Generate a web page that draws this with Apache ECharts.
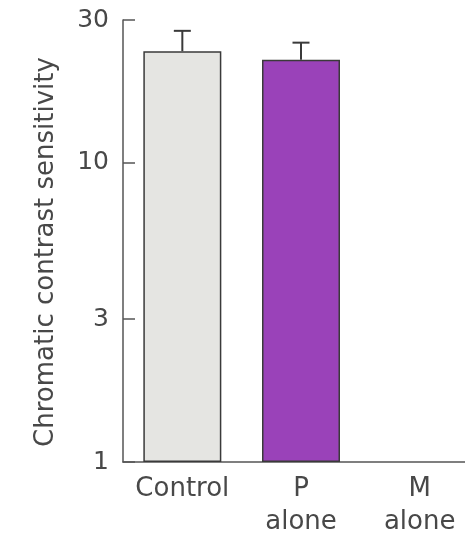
<!DOCTYPE html>
<html>
<head>
<meta charset="utf-8">
<script src="https://cdn.jsdelivr.net/npm/echarts@6/dist/echarts.min.js"></script>
<style>
html,body{margin:0;padding:0;background:#fff;}
#chart{width:465px;height:534px;}
</style>
</head>
<body>
<div id="chart"></div>
<script>
const categories = ['Control', 'P\nalone', 'M\nalone'];
const meanValues = [23.6, 22.1, '-'];
const errorUpper = [27.6, 25.2, '-'];
const barColors = ['#e5e5e2', '#9a42b9'];
const yTickValues = [1, 3, 10, 30];

const chart = echarts.init(document.getElementById('chart'));
const errData = [];
meanValues.forEach((v, i) => {
  if (v !== '-' && errorUpper[i] !== '-') errData.push([i, v, errorUpper[i]]);
});

chart.setOption({
  animation: false,
  backgroundColor: '#ffffff',
  grid: { left: 123, top: 20, width: 356, bottom: 72, containLabel: false, outerBoundsMode: 'none' },
  xAxis: {
    type: 'category',
    data: categories,
    boundaryGap: true,
    axisLine: { show: true, lineStyle: { color: '#555', width: 1.5 } },
    axisTick: { show: false },
    axisLabel: {
      color: '#484848',
      fontFamily: 'DejaVu Sans',
      fontSize: 26,
      lineHeight: 33,
      margin: 11,
      interval: 0
    },
    splitLine: { show: false }
  },
  yAxis: {
    type: 'log',
    logBase: 10,
    min: 1,
    max: 30,
    name: 'Chromatic contrast sensitivity',
    nameLocation: 'middle',
    nameGap: 64,
    nameTextStyle: { color: '#484848', fontFamily: 'DejaVu Sans', fontSize: 26, padding: [0, 22, 0, 0] },
    axisLine: { show: true, lineStyle: { color: '#555', width: 1.5 } },
    axisTick: { show: true, inside: true, length: 12, lineStyle: { color: '#555', width: 1.5 }, customValues: yTickValues },
    axisLabel: {
      color: '#484848',
      fontFamily: 'DejaVu Sans',
      fontSize: 25,
      margin: 14,
      customValues: yTickValues,
      formatter: v => String(Math.round(v))
    },
    splitLine: { show: false }
  },
  series: [
    {
      type: 'bar',
      barWidth: 78,
      data: meanValues.map((v, i) => ({
        value: v,
        itemStyle: { color: barColors[i] || '#ccc', borderColor: '#3a3a3a', borderWidth: 1.5 }
      })),
      z: 2
    },
    {
      type: 'custom',
      data: errData,
      encode: { x: 0, y: [1, 2] },
      z: 3,
      renderItem: function (params, api) {
        const x = api.value(0);
        const base = api.coord([x, api.value(1)]);
        const top = api.coord([x, api.value(2)]);
        const half = 8.5;
        const style = { stroke: '#3a3a3a', lineWidth: 2 };
        return {
          type: 'group',
          children: [
            { type: 'line', shape: { x1: base[0], y1: base[1], x2: top[0], y2: top[1] }, style: style },
            { type: 'line', shape: { x1: top[0] - half, y1: top[1], x2: top[0] + half, y2: top[1] }, style: style }
          ]
        };
      }
    }
  ]
});
</script>
</body>
</html>
